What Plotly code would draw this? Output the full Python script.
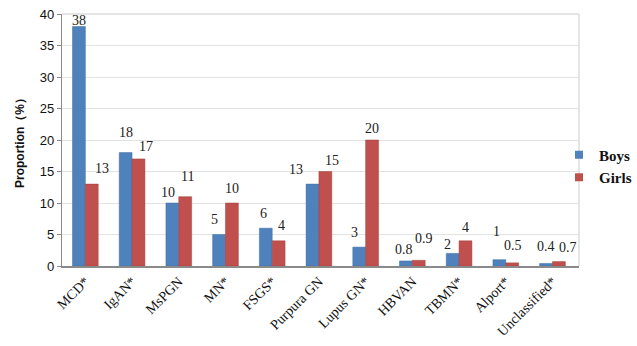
import plotly.graph_objects as go

categories = ["MCD*", "IgAN*", "MsPGN", "MN*", "FSGS*", "Purpura GN", "Lupus GN*",
              "HBVAN", "TBMN*", "Alport*", "Unclassified*"]
boys = [38, 18, 10, 5, 6, 13, 3, 0.8, 2, 1, 0.4]
girls = [13, 17, 11, 10, 4, 15, 20, 0.9, 4, 0.5, 0.7]
boys_labels = ["38", "18", "10", "5", "6", "13", "3", "0.8", "2", "1", "0.4"]
girls_labels = ["13", "17", "11", "10", "4", "15", "20", "0.9", "4", "0.5", "0.7"]
y_ticks = [0, 5, 10, 15, 20, 25, 30, 35, 40]

# label placement styling (pixel offsets relative to top of each bar)
boys_dx = [0, 0, -4, -5, -2, -16, -5, -2, -5, -3, 0]
boys_dy = [6, 20, 11, 15, 15, 15, 15, 11, 9, 28, 17]
girls_dx = [10, 7, 2, 0, 3, 7, 0, 5, 0, 1, 9]
girls_dy = [16, 12, 20, 15, 15, 11, 12, 22, 13, 17, 14]
half_bar = 6.5

serif = "Liberation Serif, Times New Roman, serif"
sans = "Liberation Sans, Arial, sans-serif"
BLUE = "#4F81BD"
RED = "#C0504D"

fig = go.Figure()
fig.add_trace(go.Bar(x=categories, y=boys, name="Boys", showlegend=False,
                     marker=dict(color=BLUE, line=dict(color="#3f6ea3", width=0.5))))
fig.add_trace(go.Bar(x=categories, y=girls, name="Girls", showlegend=False,
                     marker=dict(color=RED, line=dict(color="#a03e3b", width=0.5))))
# legend entries with small square symbols
fig.add_trace(go.Scatter(x=[None], y=[None], mode="markers", name="<b>Boys</b>",
                         marker=dict(symbol="square", size=8, color=BLUE)))
fig.add_trace(go.Scatter(x=[None], y=[None], mode="markers", name="<b>Girls</b>",
                         marker=dict(symbol="square", size=8, color=RED)))

for vals, labels, dxs, dys, side in [(boys, boys_labels, boys_dx, boys_dy, -1),
                                      (girls, girls_labels, girls_dx, girls_dy, 1)]:
    for c, v, t, dx, dy in zip(categories, vals, labels, dxs, dys):
        fig.add_annotation(x=c, y=v, text=t, showarrow=False,
                           xanchor="center", yanchor="middle",
                           xshift=side * half_bar + dx, yshift=dy,
                           font=dict(family=serif, size=14, color="#222"))

fig.update_layout(
    width=637, height=346,
    margin=dict(l=62, r=58, t=14, b=80, autoexpand=False),
    paper_bgcolor="white", plot_bgcolor="white",
    barmode="group", bargap=0.45, bargroupgap=0.0,
    showlegend=True,
    legend=dict(xref="container", yref="container", x=1.0, y=0.52,
                xanchor="right", yanchor="middle",
                font=dict(family=serif, size=15, color="#111"),
                itemwidth=30, borderwidth=0, bgcolor="rgba(0,0,0,0)"),
    xaxis=dict(tickangle=-45, tickfont=dict(family=serif, size=14, color="#111"),
               showline=True, linecolor="#8a8a8a", linewidth=1.5, ticks="",
               automargin=False),
    yaxis=dict(range=[0, 40], tickvals=y_ticks, tickfont=dict(family=sans, size=13, color="#111"),
               showgrid=True, gridcolor="#e3e3e3", gridwidth=1,
               showline=True, linecolor="#8a8a8a", linewidth=1.2, ticks="outside",
               ticklen=4, tickcolor="#8a8a8a", automargin=False,
               title=dict(text="<b>Proportion（%）</b>", font=dict(family=sans, size=12, color="#111"),
                          standoff=12)),
)
fig.add_shape(type="line", xref="paper", yref="paper", x0=1, x1=1, y0=0, y1=1,
              line=dict(color="#dddddd", width=1.5))
fig.add_shape(type="line", xref="paper", yref="paper", x0=0, x1=1, y0=1, y1=1,
              line=dict(color="#dddddd", width=1.5))

fig.write_html("out.html")
